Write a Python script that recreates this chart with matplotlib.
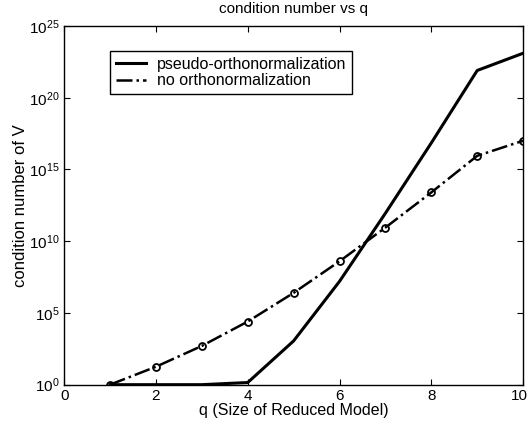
import numpy as np
import matplotlib
matplotlib.use("Agg")
import matplotlib.pyplot as plt
import matplotlib.transforms as mtransforms
from matplotlib.lines import Line2D

plt.rcParams['font.family'] = ['Liberation Sans', 'DejaVu Sans']

# q values and log10 of the condition number
q = [1, 2, 3, 4, 5, 6, 7, 8, 9, 10]
log_pseudo = [0.0, 0.0, 0.0, 0.15, 3.05, 7.2, 11.95, 16.85, 21.9, 23.1]
log_noorth = [0.0, 1.25, 2.7, 4.4, 6.4, 8.6, 10.95, 13.4, 15.95, 17.0]
labels = ["pseudo-orthonormalization", "no orthonormalization"]

cond_pseudo = 10.0 ** np.array(log_pseudo)
cond_noorth = 10.0 ** np.array(log_noorth)

fig = plt.figure(figsize=(5.30, 4.26), dpi=100)
ax = fig.add_axes([0.121, 0.097, 0.866, 0.842])

ax.semilogy(q, cond_pseudo, "-", color="black", lw=2.2)
ax.semilogy(q, cond_noorth, "-.", color="black", lw=1.8, marker="o", markersize=5,
            markerfacecolor="none", markeredgewidth=1.3)

ax.set_xlim(0, 10)
ax.set_ylim(1e0, 1e25)
ax.set_xticks([0, 2, 4, 6, 8, 10])
ax.set_yticks([1e0, 1e5, 1e10, 1e15, 1e20, 1e25])
ax.minorticks_off()
ax.tick_params(direction="in", top=True, right=True, length=4, width=0.8, labelsize=11, pad=3)
for s in ax.spines.values():
    s.set_linewidth(1.0)

# nudge the last x tick label so it stays inside the figure
fig.canvas.draw()
last = ax.get_xticklabels()[-1]
last.set_transform(last.get_transform() + mtransforms.ScaledTranslation(-3 / 72, 0, fig.dpi_scale_trans))

ax.set_title("condition number vs q", fontsize=11, pad=9)
ax.set_xlabel("q (Size of Reduced Model)", fontsize=11.5, labelpad=0)
ax.set_ylabel("condition number of V", fontsize=12, labelpad=1)

# legend in the old style: line sample only, no marker
handles = [Line2D([], [], color="black", ls="-", lw=2.2),
           Line2D([], [], color="black", ls="-.", lw=1.8)]
leg = ax.legend(handles, labels, loc="upper left", bbox_to_anchor=(0.1, 0.93), fontsize=11.5,
                handlelength=1.9, fancybox=False, edgecolor="black", framealpha=1,
                borderpad=0.35, labelspacing=0.1, handletextpad=0.7, borderaxespad=0)
leg.get_frame().set_linewidth(1.0)

fig.savefig("out.png", dpi=100)
